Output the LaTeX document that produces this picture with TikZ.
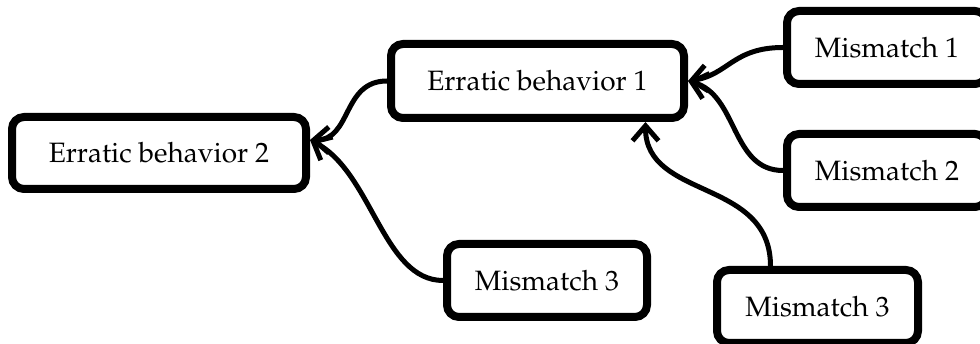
\documentclass[tikz,border=0pt]{standalone}
\usepackage[T1]{fontenc}
\usepackage{mathpazo}
\usetikzlibrary{arrows.meta}
\tikzset{
  box/.style={draw=black, line width=8pt, rounded corners=12pt, fill=white,
    inner sep=0pt, font=\fontsize{28}{34}\selectfont, minimum height=73pt},
  conn/.style={draw=black, line width=5pt,
    -{Straight Barb[length=15pt,width=26pt]}},
}
\begin{document}
\begin{tikzpicture}[x=1pt,y=1pt]
\useasboundingbox (0,0) rectangle (980,344);
\node[box, minimum width=294pt, minimum height=72pt] (eb2) at (159,191) {Erratic behavior 2};
\node[box, minimum width=293pt, minimum height=74pt] (eb1) at (537.5,263) {Erratic behavior 1};
\node[box, minimum width=200pt] (m1) at (887,296.5) {Mismatch 1};
\node[box, minimum width=200pt] (m2) at (887,173.5) {Mismatch 2};
\node[box, minimum width=200pt] (m3l) at (547,63.5) {Mismatch 3};
\node[box, minimum width=201pt] (m3r) at (817.5,37.5) {Mismatch 3};

\draw[conn] (eb1.west) .. controls +(-45,0) and +(42,0) .. ([yshift=13pt]eb2.east);
\draw[conn] (m3l.west) .. controls +(-60,0) and +(62,-32) .. ([yshift=13pt]eb2.east);
\draw[conn] (m1.west) .. controls +(-50,0) and +(40,6) .. (eb1.east);
\draw[conn] (m2.west) .. controls +(-52,0) and +(50,-14) .. (eb1.east);
\draw[conn] ([xshift=-47pt]m3r.north) .. controls +(0,88) and +(0,-78) .. ([xshift=108pt]eb1.south);
\end{tikzpicture}
\end{document}
